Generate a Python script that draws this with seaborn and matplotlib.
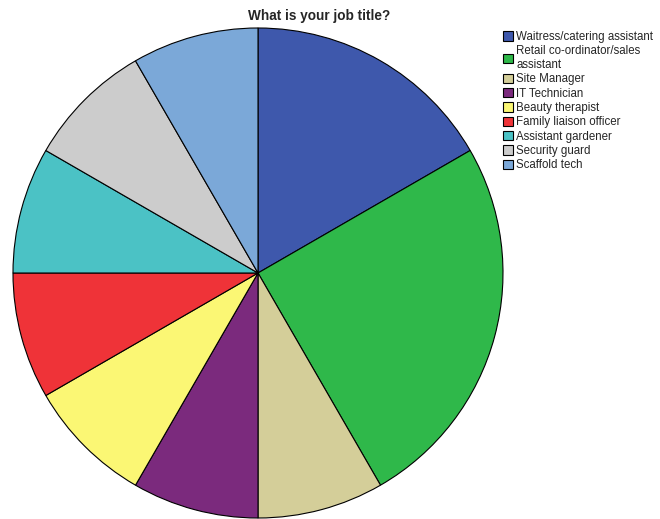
import matplotlib
matplotlib.use("Agg")
import matplotlib.pyplot as plt
import seaborn as sns
from matplotlib.patches import Patch

categories = ["Waitress/catering assistant", "Retail co-ordinator/sales\nassistant",
              "Site Manager", "IT Technician", "Beauty therapist",
              "Family liaison officer", "Assistant gardener", "Security guard",
              "Scaffold tech"]
counts = [2, 3, 1, 1, 1, 1, 1, 1, 1]
colors = ["#3E58AC", "#2FB84A", "#D4CE99", "#7B2A7D", "#FBF774",
          "#EF3338", "#4BC2C5", "#CCCCCC", "#7BA8D8"]

sns.set_style("white")
plt.rcParams['font.family'] = ['Liberation Sans', 'DejaVu Sans']

W, H = 660, 519
fig = plt.figure(figsize=(W/100, H/100), dpi=100)
cx, cy, r = 258, 273, 245
ax = fig.add_axes([(cx - r)/W, 1 - (cy + r)/H, 2*r/W, 2*r/H])
pal = sns.color_palette(colors)
ax.pie(counts, colors=pal, startangle=90, counterclock=False,
       wedgeprops=dict(edgecolor="black", linewidth=0.8), radius=1)
ax.set_xlim(-1.0, 1.0)
ax.set_ylim(-1.0, 1.0)
ax.set_aspect("equal")
ax.axis("off")

fig.text(319/W, 1 - 16/H, "What is your job title?", ha="center", va="center",
         fontsize=9.8, fontweight="bold")

handles = [Patch(facecolor=c, edgecolor="black", linewidth=0.8) for c in pal]
fig.legend(handles, categories, loc="upper left", bbox_to_anchor=(503/W, 1 - 31/H),
           frameon=False, fontsize=8.3, handlelength=0.85, handleheight=0.85,
           handletextpad=0.3, labelspacing=0.2, borderaxespad=0, borderpad=0)

fig.savefig("out.png", dpi=100)
